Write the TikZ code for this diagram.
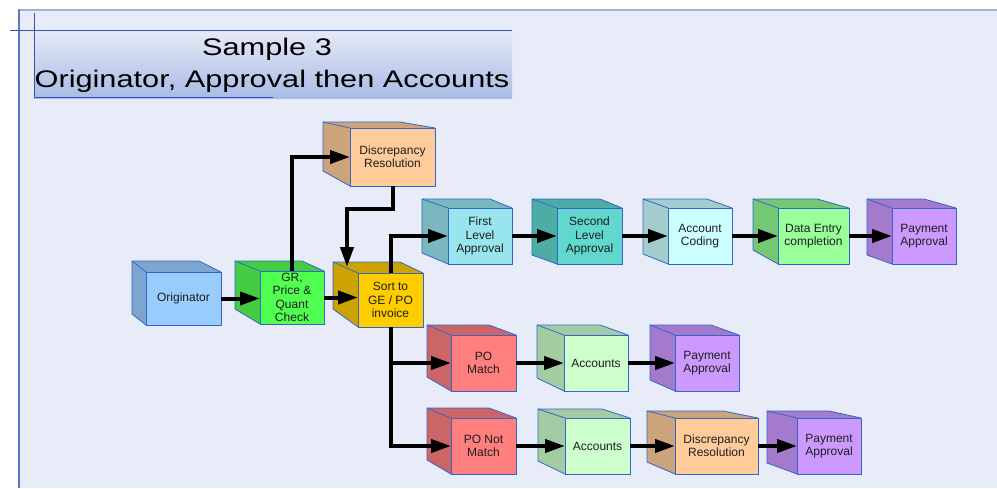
\documentclass[tikz,border=0pt]{standalone}
\usepackage{fontspec}
\setmainfont{Liberation Sans}
\newfontfamily\titlefont[FakeStretch=1.28]{Liberation Sans}
\usetikzlibrary{arrows.meta}

\definecolor{pagebg}{HTML}{E8ECF8}
\definecolor{frametop}{HTML}{9FB2E0}
\definecolor{frameleft}{HTML}{5A78C8}
\definecolor{titleline}{HTML}{3552B0}
\definecolor{titletop}{HTML}{E6EAF7}
\definecolor{titlebot}{HTML}{A9BBE5}
\definecolor{edgeblue}{HTML}{3366CC}
\definecolor{txt}{HTML}{1E1E1E}

\definecolor{origF}{HTML}{99CCFF}   \definecolor{origS}{HTML}{7DA5CF}
\definecolor{grF}{HTML}{50FF50}     \definecolor{grS}{HTML}{44CC44}
\definecolor{sortF}{HTML}{FFCC00}   \definecolor{sortS}{HTML}{CCA300}
\definecolor{discF}{HTML}{FFCC99}   \definecolor{discS}{HTML}{CCA37A}
\definecolor{firstF}{HTML}{99E5EE}  \definecolor{firstS}{HTML}{7AB7BE}
\definecolor{secF}{HTML}{60D8CE}    \definecolor{secS}{HTML}{4DADA5}
\definecolor{codeF}{HTML}{CCFFFF}   \definecolor{codeS}{HTML}{A3CCCC}
\definecolor{dataF}{HTML}{99FF99}   \definecolor{dataS}{HTML}{74C874}
\definecolor{payF}{HTML}{CC99FF}    \definecolor{payS}{HTML}{A37ACC}
\definecolor{poF}{HTML}{FF7F7F}     \definecolor{poS}{HTML}{CC6666}
\definecolor{accF}{HTML}{CCFFCC}    \definecolor{accS}{HTML}{A3CCA3}

\tikzset{
  face/.style={draw=edgeblue, line width=0.8pt, inner sep=0pt, outer sep=0pt,
    align=center, text=txt, font=\fontsize{12}{13.3}\selectfont},
  cubeedge/.style={draw=edgeblue, line width=0.8pt, line join=round},
  arr/.style={line width=4pt, -{Triangle[length=20pt,width=13pt]}},
}

% front rectangle x1/y1/x2/y2 and depth dx/top-dy/bottom-dy/back-right shift
\def\cubeRect#1/#2/#3/#4\relax{\def\cubeXa{#1}\def\cubeYa{#2}\def\cubeXb{#3}\def\cubeYb{#4}}
\def\cubeDepth#1/#2/#3/#4\relax{\def\cubeDx{#1}\def\cubeDt{#2}\def\cubeDb{#3}\def\cubeBr{#4}}

% #1 name, #2 front rect, #3 depth, #4 front colour, #5 side colour, #6 text
\newcommand\cubebox[6]{%
  \cubeRect#2\relax
  \cubeDepth#3\relax
  \pgfmathsetmacro\cubeW{\cubeXb-\cubeXa}%
  \pgfmathsetmacro\cubeH{\cubeYb-\cubeYa}%
  \pgfmathsetmacro\cubeCx{(\cubeXa+\cubeXb)/2}%
  \pgfmathsetmacro\cubeCy{(\cubeYa+\cubeYb)/2}%
  % top face
  \fill[#5] (\cubeXa,\cubeYa) -- (\cubeXa-\cubeDx,\cubeYa-\cubeDt)
    -- (\cubeXb-\cubeBr,\cubeYa-\cubeDt) -- (\cubeXb,\cubeYa) -- cycle;
  % side face
  \fill[#5] (\cubeXa,\cubeYa) -- (\cubeXa-\cubeDx,\cubeYa-\cubeDt)
    -- (\cubeXa-\cubeDx,\cubeYb-\cubeDb) -- (\cubeXa,\cubeYb) -- cycle;
  \draw[cubeedge] (\cubeXa-\cubeDx,\cubeYb-\cubeDb) -- (\cubeXa-\cubeDx,\cubeYa-\cubeDt)
    -- (\cubeXb-\cubeBr,\cubeYa-\cubeDt) -- (\cubeXb,\cubeYa);
  \draw[cubeedge] (\cubeXa-\cubeDx,\cubeYa-\cubeDt) -- (\cubeXa,\cubeYa);
  \draw[cubeedge] (\cubeXa-\cubeDx,\cubeYb-\cubeDb) -- (\cubeXa,\cubeYb);
  % front face
  \node[face, fill=#4, minimum width=\cubeW pt, minimum height=\cubeH pt]
    (#1) at (\cubeCx,\cubeCy) {#6};
}

\begin{document}
\begin{tikzpicture}[x=1pt,y=-1pt]
  \useasboundingbox (0,0) rectangle (997,488);

  % page background and frame
  \fill[white] (0,0) rectangle (997,488);
  \fill[pagebg] (18,9) rectangle (997,488);
  \draw[frametop, line width=2pt] (18,10) -- (997,10);
  \draw[frameleft, line width=1.6pt] (18.8,9) -- (18.8,488);

  % title banner
  \shade[top color=titletop, bottom color=titlebot] (34,30) rectangle (512,98);
  \draw[titleline, line width=0.8pt] (10,30) -- (512,30);
  \draw[titleline, line width=0.8pt] (34,13) -- (34,97.5) -- (273,97.5);
  \node[anchor=base, font=\titlefont\fontsize{24}{32}\selectfont] (titleA) at (267,55) {Sample 3};
  \node[anchor=base, font=\titlefont\fontsize{24}{32}\selectfont] (titleB) at (272,87) {Originator, Approval then Accounts};

  % process cubes
  \cubebox{orig}{146/272/221/325}{14/11/11/22}{origF}{origS}{Originator}
  \cubebox{gr}{260/271/324/324}{25/10/15/22}{grF}{grS}{GR,\\Price \&\\Quant\\Check}
  \cubebox{sort}{358/273/423/327}{25/11/18/23}{sortF}{sortS}{Sort to\\GE / PO\\invoice}
  \cubebox{disc}{350/128/435/186}{27/6/15/35}{discF}{discS}{Discrepancy\\Resolution}

  \cubebox{first}{448/208/512/264}{26/9/11/22}{firstF}{firstS}{First\\Level\\Approval}
  \cubebox{second}{557/208/622/264}{25/9/9/22}{secF}{secS}{Second\\Level\\Approval}
  \cubebox{coding}{668/208/732/264}{25/9/10/25}{codeF}{codeS}{Account\\Coding}
  \cubebox{dataent}{778/208/849/264}{25/9/14/32}{dataF}{dataS}{Data Entry\\completion}
  \cubebox{payA}{892/208/956/264}{25/9/9/32}{payF}{payS}{Payment\\Approval}

  \cubebox{pom}{451/335/516/391}{24/10/14/27}{poF}{poS}{PO\\Match}
  \cubebox{accA}{564/335/628/391}{27/10/13/28}{accF}{accS}{Accounts}
  \cubebox{payB}{675/335/739/391}{25/10/11/28}{payF}{payS}{Payment\\Approval}

  \cubebox{ponm}{451/418/516/474}{24/10/14/27}{poF}{poS}{PO Not\\Match}
  \cubebox{accB}{565/418/630/474}{27/9/13/28}{accF}{accS}{Accounts}
  \cubebox{discB}{675/418/758/474}{28/7/12/35}{discF}{discS}{Discrepancy\\Resolution}
  \cubebox{payC}{797/418/861/474}{30/7/11/32}{payF}{payS}{Payment\\Approval}

  % connectors
  \coordinate (discdrop) at (347,209);
  \coordinate (sorttop) at (347,267);

  \draw[arr] (orig.east) -- (orig.east -| gr.west);
  \draw[arr] (gr.east) -- (gr.east -| sort.west);
  \draw[arr] (gr.north) |- (disc.west);
  \draw[arr] (disc.south) |- (discdrop) -- (sorttop);
  \draw[arr] (sort.north) |- (first.west);
  \draw[arr] (sort.south) |- (pom.west);
  \draw[arr] (sort.south) |- (ponm.west);

  \draw[arr] (first.east) -- (second.west);
  \draw[arr] (second.east) -- (coding.west);
  \draw[arr] (coding.east) -- (dataent.west);
  \draw[arr] (dataent.east) -- (payA.west);

  \draw[arr] (pom.east) -- (accA.west);
  \draw[arr] (accA.east) -- (payB.west);

  \draw[arr] (ponm.east) -- (accB.west);
  \draw[arr] (accB.east) -- (discB.west);
  \draw[arr] (discB.east) -- (payC.west);
\end{tikzpicture}
\end{document}
